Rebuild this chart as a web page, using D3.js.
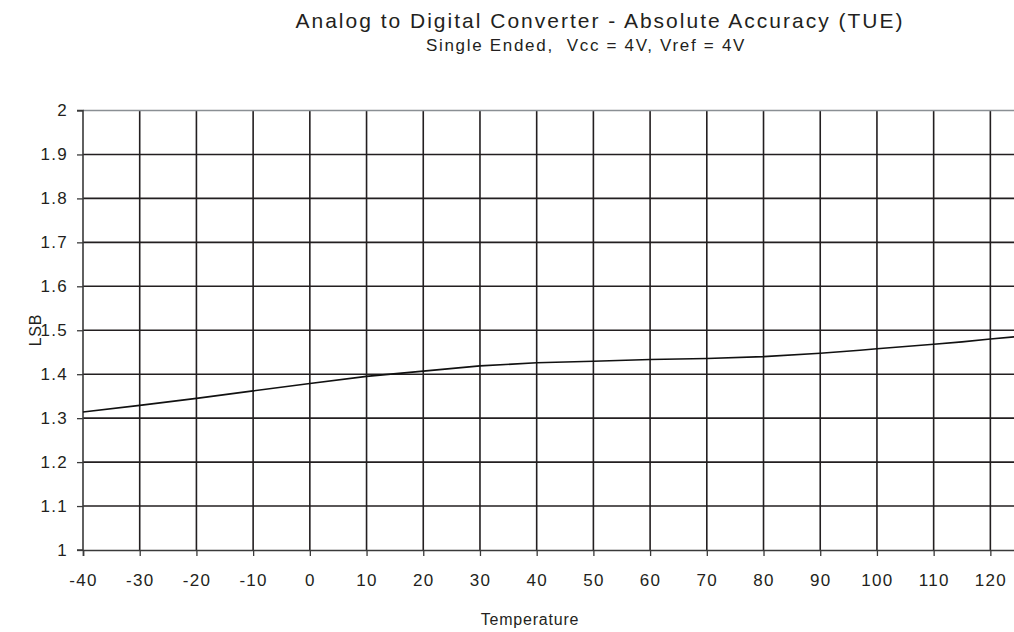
<!DOCTYPE html>
<html><head><meta charset="utf-8">
<script src="https://cdn.jsdelivr.net/npm/d3@7"></script>
<style>
html,body{margin:0;padding:0;background:#fff;overflow:hidden;}
svg{display:block;font-family:"Liberation Sans",Arial,sans-serif;}
</style></head>
<body>
<svg id="chart" width="1014" height="632"></svg>
<script>
const titleText = "Analog to Digital Converter - Absolute Accuracy (TUE)";
const subtitleText = "Single Ended,  Vcc = 4V, Vref = 4V";
const xLabel = "Temperature";
const yLabel = "LSB";
const temperature = [-40,-30,-20,-10,0,10,20,30,40,50,60,70,80,90,97,100,110,115,120,125];
const lsb = [1.314,1.329,1.345,1.362,1.379,1.395,1.407,1.419,1.426,1.4295,1.4333,1.4356,1.440,1.4477,1.4545,1.458,1.468,1.4735,1.480,1.486];
const xTicks = [-40,-30,-20,-10,0,10,20,30,40,50,60,70,80,90,100,110,120];
const yTicks = [1,1.1,1.2,1.3,1.4,1.5,1.6,1.7,1.8,1.9,2];

const svg = d3.select("#chart");
const mLeft = 83, mTop = 110.5, mBottom = 550;
const x = d3.scaleLinear().domain([-40,125]).range([mLeft, mLeft + 165*5.671]);
const y = d3.scaleLinear().domain([1,2]).range([mBottom, mTop]);
const mRight = x(125);

// horizontal grid
svg.append("g").selectAll("line").data(yTicks.filter(v=>v>1 && v<2)).join("line")
  .attr("x1", mLeft).attr("x2", mRight).attr("y1", d=>y(d)).attr("y2", d=>y(d))
  .attr("stroke", "#231f20").attr("stroke-width", 1.6);
// vertical grid
svg.append("g").selectAll("line").data(xTicks.filter(v=>v>-40)).join("line")
  .attr("x1", d=>x(d)).attr("x2", d=>x(d)).attr("y1", mTop).attr("y2", mBottom)
  .attr("stroke", "#231f20").attr("stroke-width", 1.6);
// top border
svg.append("line").attr("x1", mLeft).attr("x2", mRight).attr("y1", mTop).attr("y2", mTop)
  .attr("stroke", "#8a8f94").attr("stroke-width", 1.6);

// axes
const fmt = d => String(d);
const yAxis = d3.axisLeft(y).tickValues(yTicks).tickFormat(fmt).tickSize(6).tickPadding(9);
const gy = svg.append("g").attr("transform", `translate(${mLeft},0)`).call(yAxis);
const xAxis = d3.axisBottom(x).tickValues(xTicks).tickFormat(fmt).tickSize(6).tickPadding(18);
const gx = svg.append("g").attr("transform", `translate(0,${mBottom})`).call(xAxis);
[gx, gy].forEach(g => {
  g.select(".domain").attr("stroke", "#3a3a3a").attr("stroke-width", 1.6);
  g.selectAll(".tick line").attr("stroke", "#3a3a3a").attr("stroke-width", 1.3);
  g.selectAll(".tick text").attr("fill", "#231f20").attr("font-size", 17)
    .attr("font-family", "Liberation Sans, Arial, sans-serif").style("letter-spacing", "1.3px");
});
gy.select(".domain").attr("d", `M-6,${mTop}H0V${mBottom}H-6`);

// data line
const line = d3.line().x((d,i)=>x(temperature[i])).y(d=>y(d));
svg.append("path").datum(lsb).attr("d", line).attr("fill","none")
  .attr("stroke","#111").attr("stroke-width",1.6);

// titles
svg.append("text").attr("x", 600).attr("y", 28).attr("text-anchor","middle")
  .attr("font-size", 21).attr("fill","#231f20").style("letter-spacing","2px").text(titleText);
svg.append("text").attr("x", 586).attr("y", 51).attr("text-anchor","middle")
  .attr("font-size", 17).attr("fill","#231f20").style("letter-spacing","1.7px").style("white-space","pre")
  .text(subtitleText);
svg.append("text").attr("x", 530).attr("y", 625).attr("text-anchor","middle")
  .attr("font-size", 16).attr("fill","#231f20").style("letter-spacing","0.8px").text(xLabel);
svg.append("text").attr("transform","translate(41,330) rotate(-90)").attr("text-anchor","middle")
  .attr("font-size", 16).attr("fill","#231f20").style("letter-spacing","0.8px").text(yLabel);
</script>
</body></html>
